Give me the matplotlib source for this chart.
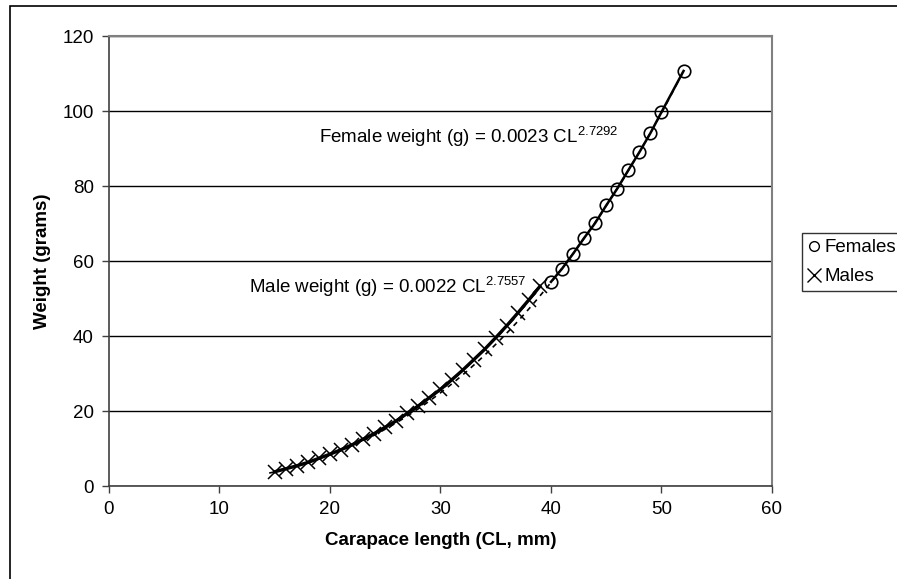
import numpy as np
import matplotlib.pyplot as plt
from matplotlib.lines import Line2D
from matplotlib.patches import Rectangle

plt.rcParams['font.family'] = ['Liberation Sans', 'DejaVu Sans']
plt.rcParams['mathtext.default'] = 'regular'

# values
female_cl = [40, 41, 42, 43, 44, 45, 46, 47, 48, 49, 50, 52]
female_wt = [54.5, 58.0, 62.0, 66.2, 70.2, 74.9, 79.4, 84.3, 89.1, 94.2, 99.8, 110.8]

male_cl = [15, 16, 17, 18, 19, 20, 21, 22, 23, 24, 25, 26, 27,
           28, 29, 30, 31, 32, 33, 34, 35, 36, 37, 38, 39]
male_wt = [3.8, 4.6, 5.4, 6.3, 7.4, 8.5, 9.7, 11.0, 12.5, 14.0, 15.7, 17.4, 19.4,
           21.4, 23.6, 25.8, 28.3, 30.9, 33.7, 36.5, 39.6, 42.8, 46.2, 49.7, 53.3]

female_eq = 'Female weight (g) = 0.0023 CL$^{2.7292}$'
male_eq = 'Male weight (g) = 0.0022 CL$^{2.7557}$'

fig = plt.figure(figsize=(8.97, 5.79), dpi=100)
ax = fig.add_axes([0.1215, 0.1606, 0.7391, 0.7764])

# outer chart frame (cut off at right and bottom like the source)
fig.patches.append(Rectangle((10 / 897, -0.2), 2, 1.2 - 6 / 579, transform=fig.transFigure,
                             fill=False, lw=1.2, ec='black'))

# power trendline fitted to the female points, extended back
b, a = np.polyfit(np.log(female_cl), np.log(female_wt), 1)
trend_x = np.linspace(14.5, max(female_cl), 100)
ax.plot(trend_x, np.exp(a) * trend_x ** b, color='black', lw=1.2, ls=(0, (3, 3)), zorder=3)

ax.plot(male_cl, male_wt, color='black', lw=2.4, marker='x', ms=10, mew=1.1, zorder=4)
ax.plot(female_cl, female_wt, color='black', lw=1.8, marker='o', ms=9, mfc='none',
        mec='black', mew=1.2, zorder=5)

ax.set_xlim(0, 60)
ax.set_ylim(0, 120)
ax.set_xticks(range(0, 61, 10))
ax.set_yticks(range(0, 121, 20))
ax.grid(axis='y', color='black', lw=1)
ax.set_axisbelow(True)
for s in ['top', 'right']:
    ax.spines[s].set_color('#808080')
    ax.spines[s].set_linewidth(1.5)
for s in ['left', 'bottom']:
    ax.spines[s].set_color('#404040')
    ax.spines[s].set_linewidth(1.2)
ax.tick_params(direction='out', length=5, width=1, color='#404040', labelsize=13.5, pad=6)

ax.set_xlabel('Carapace length (CL, mm)', fontsize=13.5, fontweight='bold', labelpad=10)
ax.set_ylabel('Weight (grams)', fontsize=13.5, fontweight='bold', labelpad=8)

ax.text(19.0, 91.5, female_eq, fontsize=13.5)
ax.text(12.7, 51.6, male_eq, fontsize=13.5)

handles = [Line2D([], [], ls='none', marker='o', ms=7, mfc='white', mec='black', mew=1),
           Line2D([], [], ls='none', marker='x', ms=10, mec='black', mew=1)]
leg = fig.legend(handles, ['Females', 'Males'], loc='lower left',
                 bbox_to_anchor=(802 / 897, 1 - 291 / 579), fontsize=13.5,
                 frameon=True, fancybox=False, handlelength=0.7, handletextpad=0.2,
                 borderpad=0.3, borderaxespad=0, labelspacing=0.65)
leg.get_frame().set_edgecolor('black')
leg.get_frame().set_linewidth(1)

fig.savefig('out.png', dpi=100)
